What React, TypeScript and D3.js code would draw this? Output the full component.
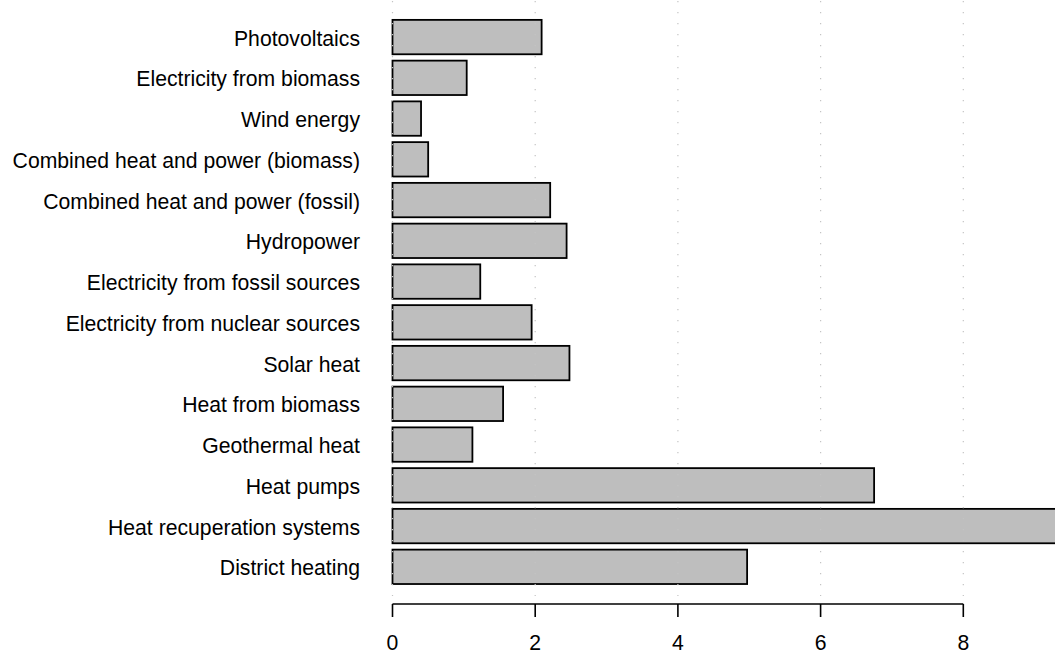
import React from "react";
import * as d3 from "d3";

const categories = [
  "Photovoltaics",
  "Electricity from biomass",
  "Wind energy",
  "Combined heat and power (biomass)",
  "Combined heat and power (fossil)",
  "Hydropower",
  "Electricity from fossil sources",
  "Electricity from nuclear sources",
  "Solar heat",
  "Heat from biomass",
  "Geothermal heat",
  "Heat pumps",
  "Heat recuperation systems",
  "District heating",
];
const values = [2.09, 1.04, 0.4, 0.5, 2.21, 2.44, 1.23, 1.95, 2.48, 1.55, 1.12, 6.75, 9.6, 4.97];
const ticks = [0, 2, 4, 6, 8];

const W = 1055;
const H = 653;

export default function App() {
  const x = d3.scaleLinear().domain([0, 8]).range([392.5, 963.3]);
  const y = d3.scaleBand<string>().domain(categories).range([16.7, 587.2]).paddingInner(0.156).paddingOuter(0.078);
  const font = "Liberation Sans, Arial, sans-serif";
  const axisY = 604;
  const fs = 21.2;
  return (
    <svg width={W} height={H} style={{ position: "absolute", left: 0, top: 0, background: "#fff" }} fontFamily={font}>
      {categories.map((c, i) => (
        <g key={c}>
          <rect
            x={x(0)}
            y={y(c)!}
            width={x(values[i]) - x(0)}
            height={y.bandwidth()}
            fill="#bebebe"
            stroke="#000"
            strokeWidth={1.8}
          />
          <text x={360} y={y(c)! + y.bandwidth() / 2} dy="0.4em" textAnchor="end" fontSize={fs} fill="#000">
            {c}
          </text>
        </g>
      ))}
      {ticks.map((t) => (
        <line key={"g" + t} x1={x(t)} x2={x(t)} y1={1} y2={596} stroke="#c4c4c4" strokeWidth={1.2} strokeDasharray="1.2 9.8" />
      ))}
      <line x1={x(0)} x2={x(8)} y1={axisY} y2={axisY} stroke="#000" strokeWidth={1.6} />
      {ticks.map((t) => (
        <g key={"t" + t}>
          <line x1={x(t)} x2={x(t)} y1={axisY} y2={axisY + 13} stroke="#000" strokeWidth={1.6} />
          <text x={x(t)} y={650} textAnchor="middle" fontSize={fs} fill="#000">
            {t}
          </text>
        </g>
      ))}
    </svg>
  );
}
